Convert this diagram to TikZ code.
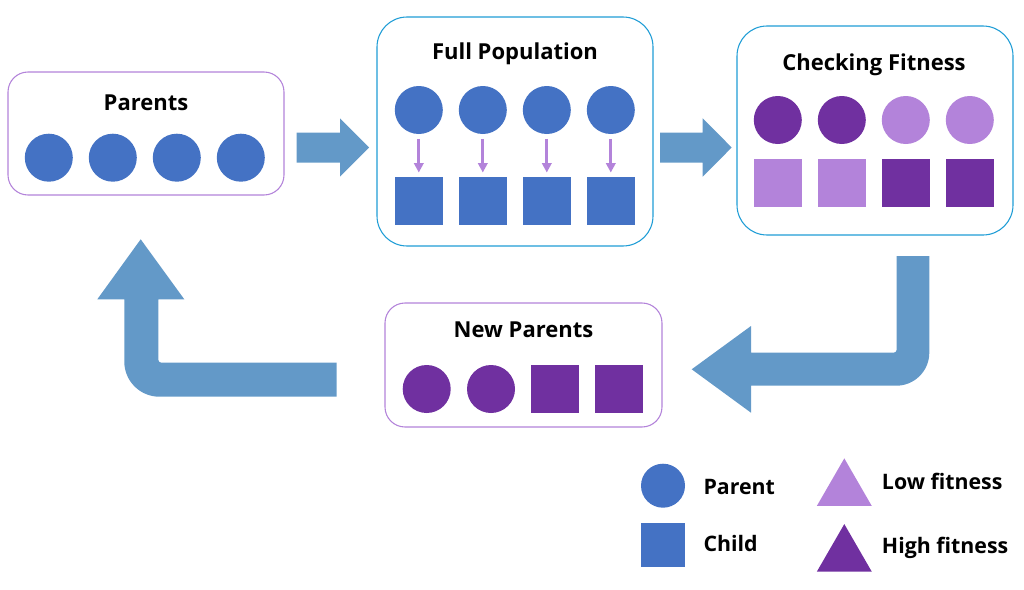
\documentclass[tikz,border=0pt]{standalone}
\usepackage{fontspec}
\setmainfont{Open Sans}
\usetikzlibrary{arrows.meta,shapes.geometric}
\definecolor{pblue}{HTML}{4472C4}
\definecolor{dpurple}{HTML}{7030A0}
\definecolor{lpurple}{HTML}{B383DA}
\definecolor{arrowblue}{HTML}{6399C8}
\definecolor{cyanline}{HTML}{1F9DD6}
\begin{document}
\begin{tikzpicture}[x=0.75pt,y=-0.75pt,
  boxp/.style={draw=lpurple, line width=0.8pt, rounded corners=15pt, fill=white, inner sep=0pt},
  boxc/.style={draw=cyanline, line width=0.8pt, rounded corners=22.5pt, fill=white, inner sep=0pt},
  circ/.style={circle, fill=#1, minimum size=36pt, inner sep=0pt, outer sep=0pt},
  sq/.style={rectangle, fill=#1, minimum size=36pt, inner sep=0pt, outer sep=0pt},
  ttl/.style={font=\bfseries\fontsize{16.5}{20}\selectfont, anchor=base, inner sep=0pt},
  lgd/.style={font=\bfseries\fontsize{16}{20}\selectfont, anchor=base west, inner sep=0pt},
  bigarrow/.style={fill=arrowblue},
  smallarrow/.style={draw=lpurple, line width=2.2pt, -{Triangle[width=7pt,length=7pt]}, shorten <=3.7pt, shorten >=3pt},
  tri/.style={regular polygon, regular polygon sides=3, minimum size=47.6pt, inner sep=0pt, fill=#1}
]
\useasboundingbox (0,0) rectangle (1024,589);

% boxes
\node[boxp, minimum width=207pt, minimum height=92.25pt] (parents) at (146,133.5) {};
\node[boxc, minimum width=207pt, minimum height=171.75pt] (full) at (515,131.5) {};
\node[boxc, minimum width=207pt, minimum height=156.75pt] (check) at (875,130.5) {};
\node[boxp, minimum width=207.75pt, minimum height=93pt] (newp) at (523.5,365) {};

% titles
\node[ttl] (tparents) at (146,110.7) {Parents};
\node[ttl] (tfull) at (515,59) {Full Population};
\node[ttl] (tcheck) at (874,70) {Checking Fitness};
\node[ttl] (tnewp) at (523.5,337.7) {New Parents};

% Parents
\node[circ=pblue] (p1) at (48.8,157.7) {};
\node[circ=pblue] (p2) at (112.8,157.7) {};
\node[circ=pblue] (p3) at (176.8,157.7) {};
\node[circ=pblue] (p4) at (240.8,157.7) {};

% Full population
\foreach \i/\x in {1/418.8,2/482.8,3/546.8,4/610.8}{
  \node[circ=pblue] (fc\i) at (\x,110) {};
  \node[sq=pblue] (fs\i) at (\x,200.5) {};
  \draw[smallarrow] (fc\i.south) -- (fs\i.north);
}

% Checking fitness
\node[circ=dpurple] (cc1) at (777.8,120) {};
\node[circ=dpurple] (cc2) at (841.8,120) {};
\node[circ=lpurple] (cc3) at (905.8,120) {};
\node[circ=lpurple] (cc4) at (969.8,120) {};
\node[sq=lpurple] (cs1) at (777.8,182.7) {};
\node[sq=lpurple] (cs2) at (841.8,182.7) {};
\node[sq=dpurple] (cs3) at (905.8,182.7) {};
\node[sq=dpurple] (cs4) at (969.8,182.7) {};

% New parents
\node[circ=dpurple] (n1) at (426.7,389) {};
\node[circ=dpurple] (n2) at (491,389) {};
\node[sq=dpurple] (n3) at (555,389) {};
\node[sq=dpurple] (n4) at (619,389) {};

% big arrows
\fill[bigarrow] (296.7,132.7) -- (340,132.7) -- (340,118.3) -- (369,147.5) -- (340,176.7) -- (340,162.7) -- (296.7,162.7) -- cycle;
\fill[bigarrow] (660,132.7) -- (702.7,132.7) -- (702.7,118.3) -- (731.7,147.5) -- (702.7,176.7) -- (702.7,162.7) -- (660,162.7) -- cycle;
% right bent arrow (down then left)
\fill[bigarrow] (896.7,256) -- (929.3,256) -- (929.3,352.7)
  .. controls (929.3,370.9) and (914.5,385.7) .. (896.3,385.7)
  -- (751,385.7) -- (751,412.7) -- (691.7,369.3) -- (751,326) -- (751,352.7)
  -- (893.7,352.7) .. controls (895.4,352.7) and (896.7,351.4) .. (896.7,349.7) -- cycle;
% left bent arrow (left then up)
\fill[bigarrow] (336.7,362.7) -- (336.7,396.7) -- (159.3,396.7)
  .. controls (140,396.7) and (124.3,381) .. (124.3,361.7)
  -- (124.3,299.3) -- (97.3,299.3) -- (140.7,239.3) -- (184.3,299.3) -- (158.3,299.3)
  -- (158.3,359.7) .. controls (158.3,361.4) and (159.6,362.7) .. (161.3,362.7) -- cycle;

% legend
\node[circle, fill=pblue, minimum size=33pt, inner sep=0pt] (lc) at (663,485.7) {};
\node[rectangle, fill=pblue, minimum size=33pt, inner sep=0pt] (ls) at (663,544.7) {};
\node[lgd] (lct) at (703.3,494) {Parent};
\node[lgd] (lst) at (703.3,551.7) {Child};
\node[tri=lpurple] (tl) at (844.3,490.1) {};
\node[tri=dpurple] (th) at (844.3,555.8) {};
\node[lgd] (tlt) at (881.7,489.3) {Low fitness};
\node[lgd] (tht) at (881.7,553.3) {High fitness};
\end{tikzpicture}
\end{document}
